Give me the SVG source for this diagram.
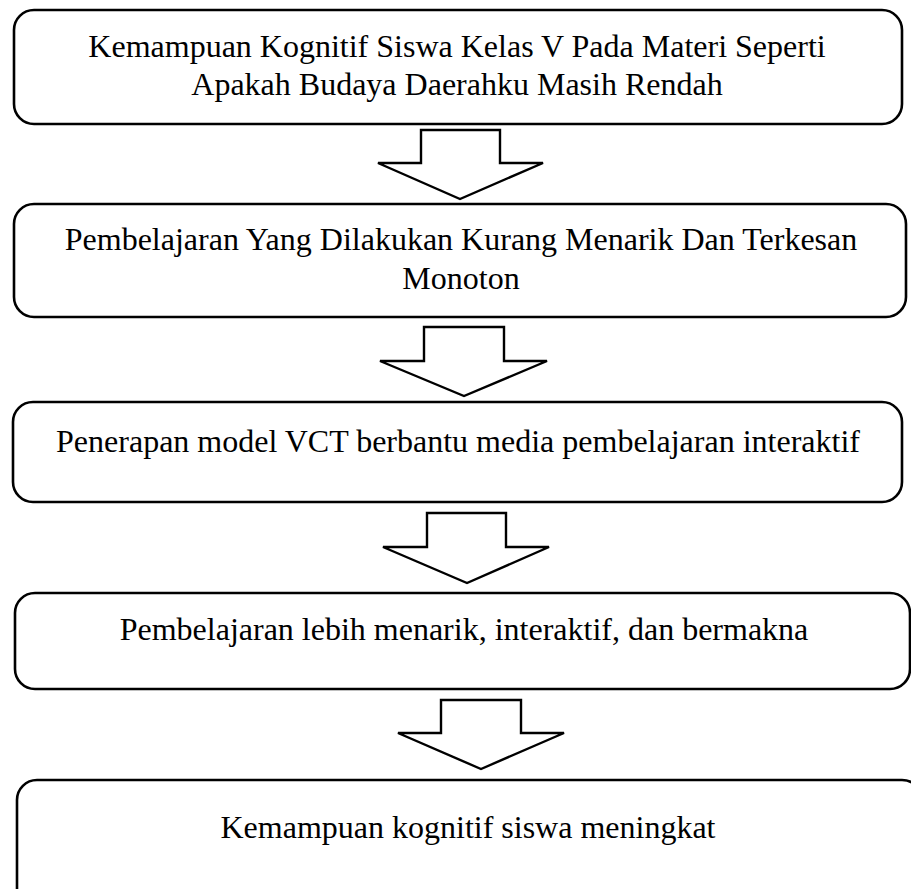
<svg xmlns="http://www.w3.org/2000/svg" width="911" height="889" viewBox="0 0 911 889">
<style>
.box{fill:#fff;stroke:#000;stroke-width:2.6}
.arr{fill:#fff;stroke:#000;stroke-width:2.4;stroke-linejoin:miter}
.t{font-family:"Liberation Serif","Times New Roman",serif;font-size:32px;fill:#000;text-anchor:middle}
</style>
<rect width="911" height="889" fill="#fff"/>
<g id="node1">
<rect class="box" x="14" y="10" width="888" height="114" rx="20"/>
<text class="t" x="457" y="57">Kemampuan Kognitif Siswa Kelas V Pada Materi Seperti</text>
<text class="t" x="457" y="95">Apakah Budaya Daerahku Masih Rendah</text>
</g>
<g id="node2">
<rect class="box" x="14" y="204" width="892" height="113" rx="20"/>
<text class="t" x="461" y="250">Pembelajaran Yang Dilakukan Kurang Menarik Dan Terkesan</text>
<text class="t" x="461" y="289">Monoton</text>
</g>
<g id="node3">
<rect class="box" x="13" y="402" width="889" height="100" rx="20"/>
<text class="t" x="458" y="452">Penerapan model VCT berbantu media pembelajaran interaktif</text>
</g>
<g id="node4">
<rect class="box" x="15" y="593" width="895" height="96" rx="20"/>
<text class="t" x="464" y="640">Pembelajaran lebih menarik, interaktif, dan bermakna</text>
</g>
<g id="node5">
<rect class="box" x="17" y="780" width="905" height="130" rx="20"/>
<text class="t" x="468" y="838">Kemampuan kognitif siswa meningkat</text>
</g>
<g id="connectors">
<polygon class="arr" points="421,130 500,130 500,163 543,163 460,199 378,163 421,163"/>
<polygon class="arr" points="424,327 504,327 504,361 547,361 464,396 380,361 424,361"/>
<polygon class="arr" points="427,513 506,513 506,547 549,547 467,583 383,547 427,547"/>
<polygon class="arr" points="441,700 521,700 521,733 564,733 481,769 398,733 441,733"/>
</g>
</svg>
